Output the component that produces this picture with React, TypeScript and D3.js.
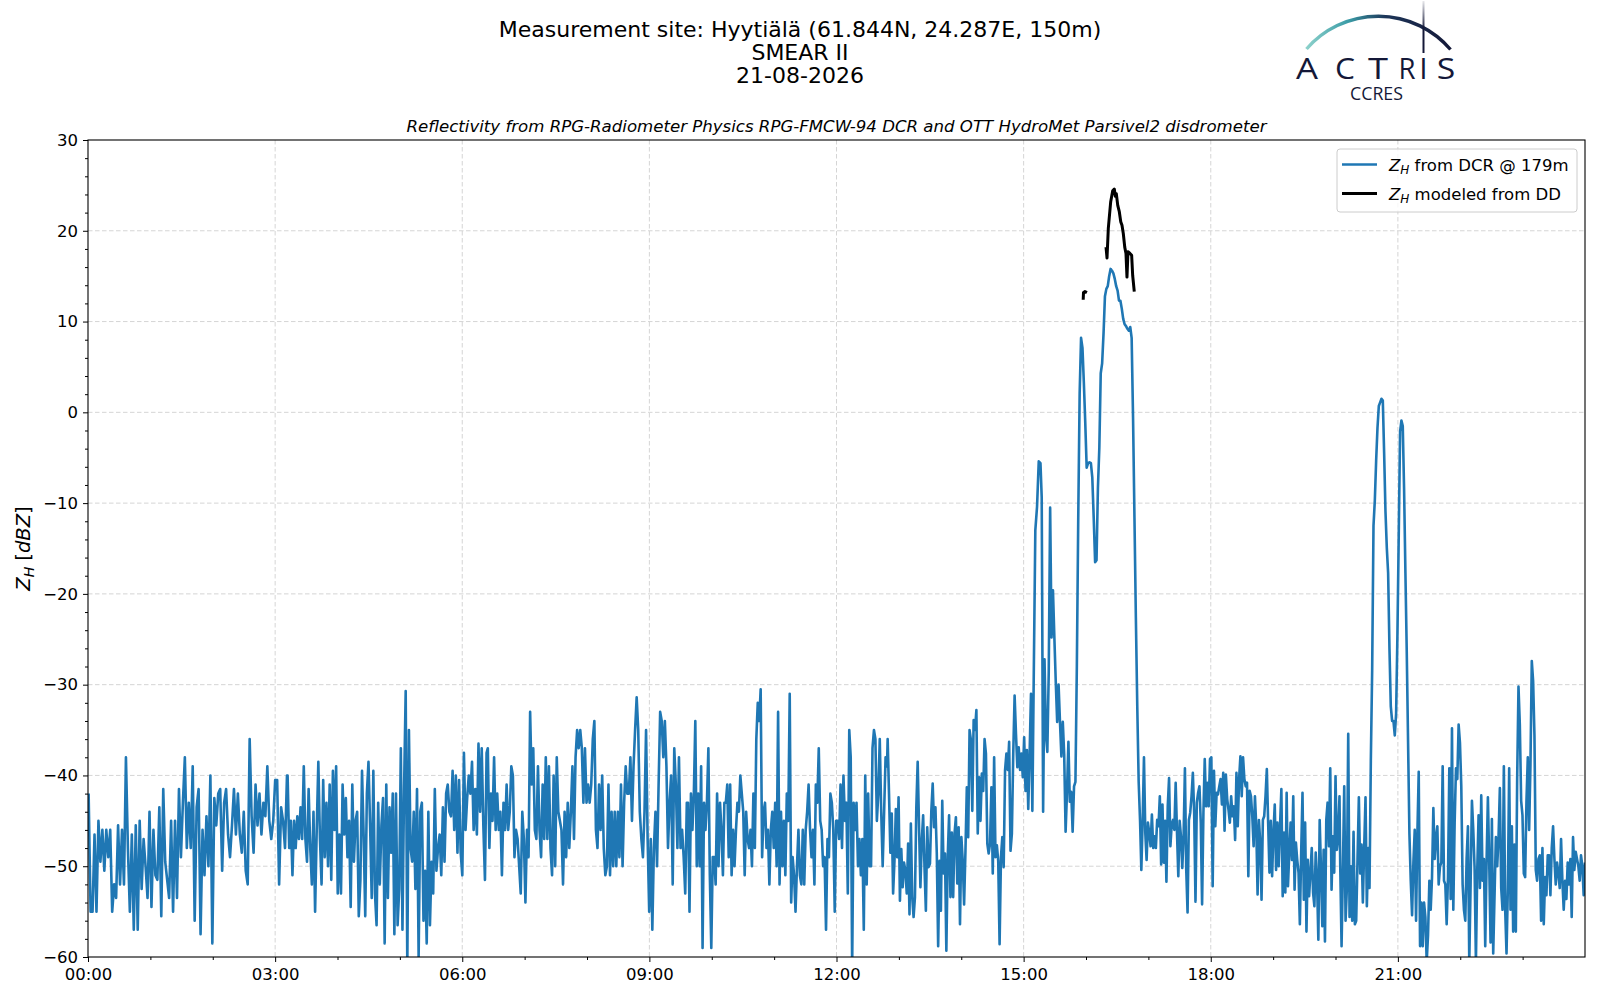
import React, { useEffect, useRef } from "react";
import * as d3 from "d3";

// ---------- Data ----------
const xTickHours = [0, 3, 6, 9, 12, 15, 18, 21];
const xTickLabels = ["00:00", "03:00", "06:00", "09:00", "12:00", "15:00", "18:00", "21:00"];
const xMinorHours = [1, 2, 4, 5, 7, 8, 10, 11, 13, 14, 16, 17, 19, 20, 22, 23];
const yTicks = [-60, -50, -40, -30, -20, -10, 0, 10, 20, 30];
const yMinorTicks = d3.range(-60, 31, 2).filter((v) => v % 10 !== 0);

// DCR reflectivity @ 179m (dBZ), stored in chunks; each chunk covers [start h, end h]
const dcrSpans: [number, number][] = [
  [0.01, 3.19],
  [3.2, 6.39],
  [6.41, 9.6],
  [9.62, 12.81],
  [12.82, 15.14],
  [15.16, 15.27],
  [15.29, 16.867],
  [16.887, 20.064],
  [20.076, 24.0],
];

const dcr0000 = [
  -42, -55, -55, -46.5, -55, -45, -49.5, -46, -50.5, -46, -49, -46, -55, -52, -53.5, -45.5, -52, -46, -52, -38,
  -48, -55, -46.5, -57, -45.5, -57, -45, -52.5, -47, -50, -53.5, -44, -54.5, -46, -51, -51.5, -43.5, -55.5, -41.5,
  -49.5, -51.5, -53.5, -45, -55, -45, -53.5, -41.5, -49, -43, -38, -48, -43, -48, -39, -56, -43.5, -41.5, -57.5,
  -46, -51, -44.5, -50, -40, -58.5, -42.5, -45.5, -42, -41.5, -50.5, -43, -41.5, -46.5, -49, -45.5, -41.5, -46.5,
  -42, -46.5, -48.5, -44, -50.5, -52, -36, -44.5, -48.5, -41, -45.5, -42, -46.5, -43, -44.5, -39, -45, -47, -45,
  -40.5, -40.5, -52, -43.5, -45, -48, -40,
];

const dcr0312 = [
  -40, -48, -45, -51, -45, -48, -44.5, -47, -43.5, -47, -39, -47, -49.5, -41.5, -48, -52, -44, -55, -46, -38.5,
  -47, -52, -40.5, -49, -43, -50, -41, -51.5, -39.5, -46, -39, -53, -46.5, -53, -41, -46.5, -42.5, -49, -45, -54.5,
  -41, -49.5, -45, -44, -55.5, -51.5, -39.5, -46.5, -55.5, -42, -38.5, -45.5, -53.5, -39.5, -53, -56.5, -43, -52,
  -45.5, -42.5, -58.5, -41, -53.5, -43.5, -48.5, -42, -57.5, -42, -56.5, -52.5, -37, -57, -41.5, -30.7, -61, -35,
  -48, -49.5, -44, -52.5, -41.5, -60, -44, -43, -56, -50.5, -58.5, -44, -56.5, -49.5, -53, -41.5, -50.5, -48,
  -46.5, -51, -43.5, -49.5, -42, -41, -44, -44.5, -39.5, -46, -40, -48.5, -40.5, -48.5, -51, -37.5, -46, -42.5,
  -40, -42, -38.5, -46, -41.5, -46.5, -36.5, -44, -37, -45.5, -51.5, -37.5,
];

const dcr0624 = [
  -37, -48, -42, -45, -38, -46, -42, -46, -44, -51, -43, -46, -41, -46, -44, -39, -40, -49, -46, -47, -50, -53,
  -44, -47, -54, -46, -49, -33, -41, -37, -46, -47, -39, -46, -49, -41, -47, -38, -47, -39, -48, -51, -40, -50,
  -38, -44, -45, -46, -52, -44, -49, -43, -48, -44, -39, -47, -38, -35, -37, -35, -37, -43, -37, -43, -41, -43,
  -41, -36, -34, -46, -48, -41, -46, -40, -48, -51, -50, -41, -51, -44, -50, -44, -50, -44, -49, -41, -50, -43,
  -39, -42, -42, -38, -45, -39, -35, -31.4, -35, -44, -47, -49, -44, -35, -47, -55, -47, -57, -48, -44, -50, -41,
  -33, -34, -38, -34, -39, -48, -43, -40, -52, -37, -41, -48, -38, -48, -46, -49, -53, -43,
];

const dcr0937 = [
  -43, -55, -42, -46, -42, -34, -50, -42, -50, -39, -59, -43, -46, -43, -37, -51, -59, -49, -49, -52, -42, -50,
  -43, -46, -51, -43, -43, -41, -49, -41, -51, -46, -50, -46, -43, -44, -40, -42, -44, -51, -44, -47, -48, -46,
  -50, -42, -48, -36, -32, -34, -30.5, -49, -44, -43, -48, -46, -52, -46, -44, -48, -43, -50, -33, -52, -44, -50,
  -45, -51, -42, -45, -31, -54, -49, -51, -55, -50, -46, -51, -52, -46, -52, -46, -44, -41, -46, -49, -46, -52,
  -41, -43, -37, -45, -46, -50, -49, -57, -47, -49, -42, -43, -46, -55, -45, -45, -47, -41, -48, -40, -45, -43,
  -53, -35, -38, -61, -43, -46, -43, -50, -47, -51, -47, -57, -40, -52, -42, -50, -50, -37, -35, -36, -45, -42,
  -36, -44, -50, -44, -38, -39,
];

const dcr1249 = [
  -36, -42, -48.5, -44.2, -53, -49.4, -43.7, -49, -42.4, -53.8, -48.1, -52.3, -49.6, -50.5, -53, -47.5, -55.3,
  -45.3, -53.4, -55.6, -53.4, -43.5, -38.5, -45.7, -52.3, -47.2, -44.4, -50.1, -54.9, -45.7, -50.1, -49.7, -43.9,
  -40.9, -45.7, -43.5, -48.6, -58.8, -49.4, -54.9, -42.8, -50.8, -48.6, -59.3, -49, -44.4, -53.4, -46.3, -53.4,
  -46.4, -44.6, -51.9, -45.7, -56.4, -46.8, -49.4, -54.2, -48.3, -41.3, -46.8, -35, -36.1, -43.9, -33.9, -35,
  -32.8, -46.4, -40.2, -45, -39.8, -41.7, -36, -37.6, -47.5, -48.6, -47.5, -41.3, -50.8, -38, -49, -47.7, -49.4,
  -58.6, -49, -46.8, -50.1, -39.4, -37.6, -39.4, -36.3, -48.3, -46.4, -37.6, -31.2, -35.4, -39.1, -36.9, -39.4,
  -37.6, -40.2, -35.8, -41.7, -37.2, -43.7, -37.6, -31, -43.9,
];

const dcr1509 = [-30.6, -13, -10.4, -5.4, -5.6];

const dcr1517 = [
  -9.4, -44, -27.2, -35.5, -37.4, -28.6, -10.5, -24.8, -19.6, -24.8, -29.7, -34.1, -30, -34.1, -37.9, -34.1,
  -37.7, -46.2, -41.8, -36.3, -42.9, -41.8, -46.2, -41.2, -40.7, -28, -11.6, 2.1, 8.2, 7.1, 3.2, -1.2, -6.1, -5.6,
  -5.5, -5.6, -7.2, -11.6, -16.5, -16.3, -8.3, -3.9, 4.3, 5.4, 8.7, 12.8, 13.6, 13.9, 15, 15.8, 15.6, 15.3, 14.7,
  13.9, 13.4, 12.3, 12.3, 11.4, 10.3, 9.7, 9.5, 9.2, 9, 9.4, 8.2, -0.6, -11.6, -22.6, -32.4, -40.7, -45.1,
];

const dcr1653 = [
  -50.4, -45, -38, -46.3, -49.3, -45.2, -46.3, -47.8, -44.3, -48, -46.7, -48, -44.9, -45.6, -42.3, -49.8, -43.2,
  -49.6, -45, -51.7, -43.4, -40.3, -47.8, -45.4, -44.9, -46, -40.8, -46.3, -51.1, -45, -46.7, -50.2, -46.7, -39.2,
  -50.4, -55.1, -44.9, -44.1, -42.3, -39.7, -44.1, -53.9, -43, -41.9, -41.2, -45.2, -54.2, -44.1, -38.2, -43.4,
  -40.8, -43.4, -38.2, -38, -52.2, -39.5, -45.6, -41.9, -42.1, -41.2, -40.4, -43.2, -39.7, -46.1, -39.9, -42.6,
  -43.8, -45.2, -42.3, -44.5, -43.4, -47.1, -39.7, -45.6, -40.4, -37.9, -42.3, -38, -40.4, -41.2, -40.8, -51.1,
  -41.7, -42.3, -44.5, -47.8, -42.3, -45.6, -53.1, -44.9, -47.4, -53.7, -44.9, -44.5, -42.3, -39.3, -45.2, -50.7,
  -45, -51.1, -46.3, -43.2, -50.4, -45.2, -50, -45.6, -41.5, -53.3, -46.3, -52.9, -41.9, -52.2, -48.5, -45.2,
  -49.3, -42.3, -52.6, -47.4, -49.3, -50.7, -56.4, -48.5, -41.9, -53.7, -45.2, -57.2, -49.3, -53.3, -50.7, -48,
  -52.9, -54.4, -48.5, -51.5, -58.1, -44.9, -50.4, -56.6, -48.2, -58.3, -44.9, -43, -47.8, -39.2, -52.6, -46.7,
  -50.7, -40.1, -48.2, -46.7, -42.3,
];

const dcr2004 = [
  -50, -58.8, -50.4, -41.2, -56, -52.4, -35.4, -55.6, -50, -56, -46.2, -56.4, -56, -49.2, -42.4, -50.8, -47.6, -54,
  -48, -42.4, -54.4, -48, -52.4, -38.4, -28.4, -12.5, -9.7, -5.3, -1.7, 0.7, 1.1, 1.5, 1.3, -4.5, -10.9, -14.9,
  -17.7, -26, -32.4, -34, -34, -35.6, -33.2, -24.4, -13.3, -2.1, -0.9, -1.5, -8.5, -17.7, -26.4, -36.4, -46.4,
  -51.6, -55.4, -49.6, -46, -56, -46.4, -39.6, -58.8, -54, -58.8, -54, -55.6, -60.5, -57.6, -51.6, -54.8, -51.2,
  -43.6, -49.2, -46.8, -45.6, -52, -50, -49.6, -39, -51.6, -52, -56.4, -51.2, -39.2, -53.6, -34.8, -54.8, -45.2,
  -39.2, -40.4, -34.4, -36.4, -41.2, -52, -54.8, -56, -49.2, -45.6, -60.5, -52, -42.8, -46, -50.2, -60.5, -50.4,
  -44.4, -52.4, -42.2, -51.6, -49.2, -58.8, -49.6, -42.4, -49.6, -58.4, -44.8, -59.6, -53.2, -46.8, -50, -46.8,
  -41.4, -52.4, -54.8, -39, -54.8, -59.6, -52.4, -39.2, -54.8, -45.6, -57.2, -47.6, -57.2, -40.4, -30.2, -34.4,
  -42.8, -44.4, -50.8, -51.2, -42.8, -38, -46, -38.8, -27.4, -29.6, -35.6, -50.4, -51.6, -49.2, -48.8, -56, -48,
  -56.4, -51.2, -53.2, -48.8, -48.8, -53.2, -48, -45.6, -49.2, -52, -49.6, -50.8, -52.4, -47, -51.6, -54.8, -51.6,
  -53.6, -49.6, -52, -49.2, -55.6, -46.8, -50.4, -48.4, -49.2, -50, -51.6, -48.8, -50, -53.2, -49.6,
];

const dcrChunks = [dcr0000, dcr0312, dcr0624, dcr0937, dcr1249, dcr1509, dcr1517, dcr1653, dcr2004];

// Z_H modeled from the disdrometer (null = gap)
const modelHours = [
  15.955, 15.96, 15.984, 16.016, 16.17, 16.321, 16.337, 16.358, 16.396, 16.428, 16.454, 16.47, 16.486, 16.509,
  16.534, 16.557, 16.577, 16.598, 16.621, 16.641, 16.657, 16.673, 16.705, 16.732, 16.748, 16.774,
];
const modelDbz: (number | null)[] = [
  12.4, 13.2, 13.3, 13.2, null, 18.2, 17.0, 20.3, 23.2, 24.4, 24.6, 23.8, 24.1, 22.8, 22.1, 21.0, 20.6, 19.7, 18.2,
  17.5, 14.9, 17.7, 17.5, 17.3, 15.1, 13.3,
];

const titleLines = ["Measurement site: Hyytiälä (61.844N, 24.287E, 150m)", "SMEAR II", "21-08-2026"];
const subtitle =
  "Reflectivity from RPG-Radiometer Physics RPG-FMCW-94 DCR and OTT HydroMet Parsivel2 disdrometer";
const legendLabels = [" from DCR @ 179m", " modeled from DD"];
const logoLetters = ["A", "C", "T", "R", "I", "S"];

interface Pt {
  h: number;
  v: number | null;
}

const WIDTH = 1600;
const HEIGHT = 1000;
const FONT = "'DejaVu Sans', sans-serif";
const BLUE = "#1f77b4";
const NAVY = "#141838";
const TICK_FS = 16.5;

const App: React.FC = () => {
  const svgRef = useRef<SVGSVGElement | null>(null);

  useEffect(() => {
    const margin = { top: 140, right: 15, bottom: 43, left: 88 };
    const x0 = margin.left;
    const x1 = WIDTH - margin.right;
    const y0 = margin.top;
    const y1 = HEIGHT - margin.bottom;

    // spread each chunk's samples over its time span
    const dcrData: Pt[] = [];
    dcrChunks.forEach((vals, i) => {
      const [s, e] = dcrSpans[i];
      const step = vals.length > 1 ? (e - s) / (vals.length - 1) : 0;
      vals.forEach((v, j) => dcrData.push({ h: s + j * step, v }));
    });
    const modelData: Pt[] = modelHours.map((h, i) => ({ h, v: modelDbz[i] }));

    const svg = d3.select(svgRef.current);
    svg.selectAll("*").remove();

    const x = d3.scaleLinear().domain([0, 24]).range([x0, x1]);
    const y = d3.scaleLinear().domain([-60, 30]).range([y1, y0]);

    const defs = svg.append("defs");
    defs
      .append("clipPath")
      .attr("id", "plot-clip")
      .append("rect")
      .attr("x", x0)
      .attr("y", y0)
      .attr("width", x1 - x0)
      .attr("height", y1 - y0);

    // ---------- Titles ----------
    svg
      .append("g")
      .selectAll("text")
      .data(titleLines)
      .enter()
      .append("text")
      .attr("x", 800)
      .attr("y", (_, i) => 36.5 + i * 23)
      .attr("text-anchor", "middle")
      .attr("font-family", FONT)
      .attr("font-size", 22)
      .text((d) => d);

    svg
      .append("text")
      .attr("x", (x0 + x1) / 2)
      .attr("y", 132)
      .attr("text-anchor", "middle")
      .attr("font-family", FONT)
      .attr("font-style", "italic")
      .attr("font-size", 16.6)
      .text(subtitle);

    // ---------- Grid ----------
    const grid = svg.append("g").attr("stroke", "#d0d0d0").attr("stroke-width", 0.9).attr("stroke-dasharray", "4.5,2.5");
    grid
      .selectAll("line.gx")
      .data(xTickHours.slice(1))
      .enter()
      .append("line")
      .attr("x1", (d) => x(d))
      .attr("x2", (d) => x(d))
      .attr("y1", y0)
      .attr("y2", y1);
    grid
      .selectAll("line.gy")
      .data(yTicks.slice(1, -1))
      .enter()
      .append("line")
      .attr("x1", x0)
      .attr("x2", x1)
      .attr("y1", (d) => y(d))
      .attr("y2", (d) => y(d));

    // ---------- Lines ----------
    const line = d3
      .line<Pt>()
      .defined((d) => d.v !== null)
      .x((d) => x(d.h))
      .y((d) => y(d.v as number));

    const plot = svg.append("g").attr("clip-path", "url(#plot-clip)");
    plot
      .append("path")
      .datum(dcrData)
      .attr("fill", "none")
      .attr("stroke", BLUE)
      .attr("stroke-width", 2.6)
      .attr("stroke-linejoin", "round")
      .attr("d", line);
    plot
      .append("path")
      .datum(modelData)
      .attr("fill", "none")
      .attr("stroke", "#000")
      .attr("stroke-width", 3)
      .attr("stroke-linejoin", "round")
      .attr("d", line);

    // ---------- Axes ----------
    const styleAxis = (g: d3.Selection<SVGGElement, unknown, null, undefined>) => {
      g.select(".domain").remove();
      g.attr("font-family", FONT).attr("font-size", TICK_FS);
      g.selectAll(".tick line").attr("stroke", "#000").attr("stroke-width", 1);
      g.selectAll(".tick text").attr("fill", "#000");
    };

    svg
      .append("g")
      .attr("transform", `translate(0,${y1})`)
      .call(
        d3
          .axisBottom(x)
          .tickValues(xTickHours)
          .tickSize(5)
          .tickPadding(6)
          .tickFormat((_, i) => xTickLabels[i])
      )
      .call(styleAxis);
    svg
      .append("g")
      .attr("transform", `translate(0,${y1})`)
      .call(d3.axisBottom(x).tickValues(xMinorHours).tickSize(3).tickFormat(() => ""))
      .call(styleAxis);

    svg
      .append("g")
      .attr("transform", `translate(${x0},0)`)
      .call(d3.axisLeft(y).tickValues(yTicks).tickSize(5).tickPadding(5).tickFormat(d3.format("d")))
      .call(styleAxis);
    svg
      .append("g")
      .attr("transform", `translate(${x0},0)`)
      .call(d3.axisLeft(y).tickValues(yMinorTicks).tickSize(3).tickFormat(() => ""))
      .call(styleAxis);

    svg
      .append("rect")
      .attr("x", x0)
      .attr("y", y0)
      .attr("width", x1 - x0)
      .attr("height", y1 - y0)
      .attr("fill", "none")
      .attr("stroke", "#000")
      .attr("stroke-width", 1.1);

    // y label: Z_H [dBZ]
    const ylab = svg
      .append("text")
      .attr("transform", `translate(30,${(y0 + y1) / 2}) rotate(-90)`)
      .attr("text-anchor", "middle")
      .attr("font-family", FONT)
      .attr("font-size", 19.5);
    ylab.append("tspan").attr("font-style", "italic").text("Z");
    ylab.append("tspan").attr("font-style", "italic").attr("font-size", 14).attr("dy", 4).text("H");
    ylab.append("tspan").attr("dy", -4).text(" [");
    ylab.append("tspan").attr("font-style", "italic").text("dBZ");
    ylab.append("tspan").text("]");

    // ---------- Legend ----------
    const lg = svg.append("g");
    lg.append("rect")
      .attr("x", 1337)
      .attr("y", 149)
      .attr("width", 240)
      .attr("height", 63)
      .attr("rx", 3)
      .attr("fill", "#fff")
      .attr("fill-opacity", 0.8)
      .attr("stroke", "#cccccc");
    const legendColors = [BLUE, "#000"];
    const legendWidths = [2.6, 3];
    legendLabels.forEach((lab, i) => {
      const ly = 164.5 + i * 29;
      lg.append("line")
        .attr("x1", 1342)
        .attr("x2", 1377)
        .attr("y1", ly)
        .attr("y2", ly)
        .attr("stroke", legendColors[i])
        .attr("stroke-width", legendWidths[i]);
      const t = lg
        .append("text")
        .attr("x", 1389)
        .attr("y", ly + 6)
        .attr("font-family", FONT)
        .attr("font-size", TICK_FS);
      t.append("tspan").attr("font-style", "italic").text("Z");
      t.append("tspan").attr("font-style", "italic").attr("font-size", 12).attr("dy", 3.5).text("H");
      t.append("tspan").attr("dy", -3.5).text(lab);
    });

    // ---------- ACTRIS logo ----------
    const arcGrad = defs
      .append("linearGradient")
      .attr("id", "arc-grad")
      .attr("gradientUnits", "userSpaceOnUse")
      .attr("x1", 1305)
      .attr("x2", 1452)
      .attr("y1", 0)
      .attr("y2", 0);
    arcGrad.append("stop").attr("offset", "0%").attr("stop-color", "#8fd3cc");
    arcGrad.append("stop").attr("offset", "30%").attr("stop-color", "#3a9ba6");
    arcGrad.append("stop").attr("offset", "55%").attr("stop-color", "#1d3558");
    arcGrad.append("stop").attr("offset", "100%").attr("stop-color", NAVY);

    const vGrad = defs
      .append("linearGradient")
      .attr("id", "v-grad")
      .attr("gradientUnits", "userSpaceOnUse")
      .attr("x1", 0)
      .attr("x2", 0)
      .attr("y1", 1)
      .attr("y2", 30);
    vGrad.append("stop").attr("offset", "0%").attr("stop-color", NAVY).attr("stop-opacity", 0.1);
    vGrad.append("stop").attr("offset", "100%").attr("stop-color", NAVY);

    const logo = svg.append("g");
    logo
      .append("path")
      .attr("d", "M 1306.5 49 A 95 95 0 0 1 1450.5 49.5")
      .attr("fill", "none")
      .attr("stroke", "url(#arc-grad)")
      .attr("stroke-width", 3.4);
    logo
      .append("line")
      .attr("x1", 1423.5)
      .attr("x2", 1423.5)
      .attr("y1", 1)
      .attr("y2", 53)
      .attr("stroke", "url(#v-grad)")
      .attr("stroke-width", 2);

    // letter centres and widths measured on the reference logo
    const letterCenters = [1307, 1345, 1378, 1407, 1423.5, 1446];
    const letterWidths = [22, 20, 20, 17, 0, 18.5];
    logo
      .selectAll("text.letter")
      .data(logoLetters)
      .enter()
      .append("text")
      .attr("x", (_, i) => letterCenters[i])
      .attr("y", 78.5)
      .attr("text-anchor", "middle")
      .attr("font-family", "'Open Sans', sans-serif")
      .attr("font-weight", 500)
      .attr("font-size", 30)
      .attr("fill", NAVY)
      .each(function (_, i) {
        if (letterWidths[i] > 0) {
          d3.select(this).attr("textLength", letterWidths[i]).attr("lengthAdjust", "spacingAndGlyphs");
        }
      })
      .text((d) => d);
    logo
      .append("text")
      .attr("x", 1376.5)
      .attr("y", 100)
      .attr("text-anchor", "middle")
      .attr("font-family", "'Open Sans', sans-serif")
      .attr("font-size", 18.5)
      .attr("textLength", 53)
      .attr("lengthAdjust", "spacingAndGlyphs")
      .attr("fill", NAVY)
      .text("CCRES");
  }, []);

  return (
    <svg
      ref={svgRef}
      width={WIDTH}
      height={HEIGHT}
      style={{ position: "absolute", left: 0, top: 0, background: "#fff" }}
    />
  );
};

export default App;
